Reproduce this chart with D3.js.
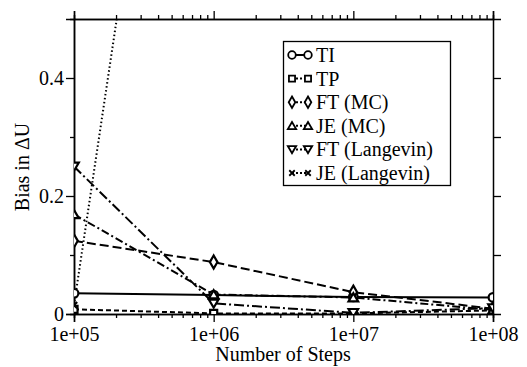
<!DOCTYPE html>
<html>
<head>
<meta charset="utf-8">
<script src="https://cdn.jsdelivr.net/npm/d3@7"></script>
<style>
  body { margin: 0; background: #fff; }
  svg { display: block; }
</style>
</head>
<body>
<svg id="chart" width="527" height="367"></svg>
<script>
// data
const steps = [1e5, 1e6, 1e7, 1e8];
const xTickLabels = ["1e+05", "1e+06", "1e+07", "1e+08"];
const yTicks = [0, 0.2, 0.4];
const yTickLabels = ["0", "0.2", "0.4"];

const ti = [0.035, 0.032, 0.029, 0.028];
const tp = [0.008, 0.001, 0.001, 0.006];
const ftMC = [0.124, 0.088, 0.037, 0.009];
const jeMC = [0.169, 0.033, 0.028, 0.007];
const ftLangevin = [0.25, 0.018, 0.002, 0.010];
const jeLangevin = [0.015, 1.6, null, null];

const seriesNames = ["TI", "TP", "FT (MC)", "JE (MC)", "FT (Langevin)", "JE (Langevin)"];

const FONT = "Liberation Serif, DejaVu Serif, serif";

const svg = d3.select("#chart");
const margin = { left: 74, right: 34, top: 19, bottom: 53 };
const width = 527, height = 367;

const x = d3.scaleLog().domain([1e5, 1e8]).range([margin.left, width - margin.right]);
const y = d3.scaleLinear().domain([0, 0.5]).range([height - margin.bottom, margin.top]);

// symbols
const xMark = { draw(ctx, size) { const r = Math.sqrt(size) / 2; ctx.moveTo(-r, -r); ctx.lineTo(r, r); ctx.moveTo(-r, r); ctx.lineTo(r, -r); } };
const triDown = { draw(ctx, size) { const h = Math.sqrt(size) * 0.62; ctx.moveTo(-h, -h * 0.8); ctx.lineTo(h, -h * 0.8); ctx.lineTo(0, h * 0.9); ctx.closePath(); } };
const triUp = { draw(ctx, size) { const h = Math.sqrt(size) * 0.62; ctx.moveTo(-h, h * 0.8); ctx.lineTo(h, h * 0.8); ctx.lineTo(0, -h * 0.9); ctx.closePath(); } };

const series = [
  { name: seriesNames[0], values: ti, dash: null, sym: d3.symbolCircle, size: 60 },
  { name: seriesNames[1], values: tp, dash: "5,3", sym: d3.symbolSquare, size: 50 },
  { name: seriesNames[2], values: ftMC, dash: "9,4", sym: d3.symbolDiamond, size: 50 },
  { name: seriesNames[3], values: jeMC, dash: "8,3,2,3", sym: triUp, size: 60 },
  { name: seriesNames[4], values: ftLangevin, dash: "10,3,2,3", sym: triDown, size: 60 },
  { name: seriesNames[5], values: jeLangevin, dash: "1.5,2.5", sym: xMark, size: 40 }
];

svg.append("clipPath").attr("id", "clip")
  .append("rect")
  .attr("x", margin.left).attr("y", margin.top)
  .attr("width", width - margin.left - margin.right)
  .attr("height", height - margin.top - margin.bottom);

// minor tick positions
const minorX = [];
[1e5, 1e6, 1e7].forEach(d => { for (let k = 2; k <= 9; k++) minorX.push(d * k); });

// bottom axis
svg.append("g").attr("class", "xax").attr("transform", `translate(0,${y(0)})`)
  .call(d3.axisBottom(x).tickValues(steps).tickSize(8).tickFormat((d, i) => xTickLabels[i]));
svg.append("g").attr("transform", `translate(0,${y(0)})`)
  .call(d3.axisBottom(x).tickValues(minorX).tickSize(4).tickFormat(""));
// top axis
svg.append("g").attr("transform", `translate(0,${y(0.5)})`)
  .call(d3.axisTop(x).tickValues(steps).tickSize(8).tickFormat(""));
svg.append("g").attr("transform", `translate(0,${y(0.5)})`)
  .call(d3.axisTop(x).tickValues(minorX).tickSize(4).tickFormat(""));
// left axis
svg.append("g").attr("class", "yax").attr("transform", `translate(${x(1e5)},0)`)
  .call(d3.axisLeft(y).tickValues(yTicks).tickSize(8).tickFormat((d, i) => yTickLabels[i]));
svg.append("g").attr("transform", `translate(${x(1e5)},0)`)
  .call(d3.axisLeft(y).tickValues([0.1, 0.3]).tickSize(4).tickFormat(""));
// right axis
svg.append("g").attr("transform", `translate(${x(1e8)},0)`)
  .call(d3.axisRight(y).tickValues([0.1, 0.2, 0.3, 0.4]).tickSize(8).tickFormat(""));

svg.selectAll(".domain").attr("stroke", "#000").attr("stroke-width", 1.5);
svg.selectAll(".tick line").attr("stroke", "#000").attr("stroke-width", 1.3);
svg.selectAll(".xax .tick text").attr("dy", "0.95em").attr("y", 8);
svg.selectAll(".yax .tick text").attr("x", -10);

// lines
const plot = svg.append("g").attr("clip-path", "url(#clip)");
const line = d3.line()
  .defined(d => d[1] != null)
  .x(d => x(d[0])).y(d => y(d[1]));

series.forEach(s => {
  const pts = steps.map((st, i) => [st, s.values[i]]);
  plot.append("path")
    .attr("d", line(pts))
    .attr("fill", "none")
    .attr("stroke", "#000")
    .attr("stroke-width", 2)
    .attr("stroke-dasharray", s.dash);
});
series.forEach(s => {
  const pts = steps.map((st, i) => [st, s.values[i]]).filter(d => d[1] != null);
  plot.selectAll(null).data(pts).enter().append("path")
    .attr("transform", d => `translate(${x(d[0])},${y(d[1])})`)
    .attr("d", d3.symbol().type(s.sym).size(s.size))
    .attr("fill", "#fff")
    .attr("stroke", "#000")
    .attr("stroke-width", 2.2);
});

// legend
const lg = svg.append("g");
lg.append("rect").attr("x", 283.5).attr("y", 41.5).attr("width", 167).attr("height", 144)
  .attr("fill", "#fff").attr("stroke", "#000").attr("stroke-width", 1.3);
series.forEach((s, i) => {
  const cy = 55 + i * 23.6;
  lg.append("line").attr("x1", 292).attr("x2", 308).attr("y1", cy).attr("y2", cy)
    .attr("stroke", "#000").attr("stroke-width", 2).attr("stroke-dasharray", s.dash ? "2,2" : null);
  [292, 308].forEach(mx => {
    lg.append("path").attr("transform", `translate(${mx},${cy})`)
      .attr("d", d3.symbol().type(s.sym).size(s.size * 0.75))
      .attr("fill", "#fff").attr("stroke", "#000").attr("stroke-width", 1.8);
  });
  lg.append("text").attr("x", 316).attr("y", cy + 7).text(s.name);
});

// axis titles
svg.append("text").attr("x", 283).attr("y", 361).attr("text-anchor", "middle")
  .text("Number of Steps");
svg.append("text").attr("transform", "translate(29,167) rotate(-90)").attr("text-anchor", "middle")
  .text("Bias in ΔU");

// one font for every text
svg.selectAll("g").attr("font-family", null).attr("font-size", null);
svg.selectAll("text")
  .attr("font-family", FONT)
  .attr("font-size", 20)
  .attr("fill", "#000");
</script>
</body>
</html>
